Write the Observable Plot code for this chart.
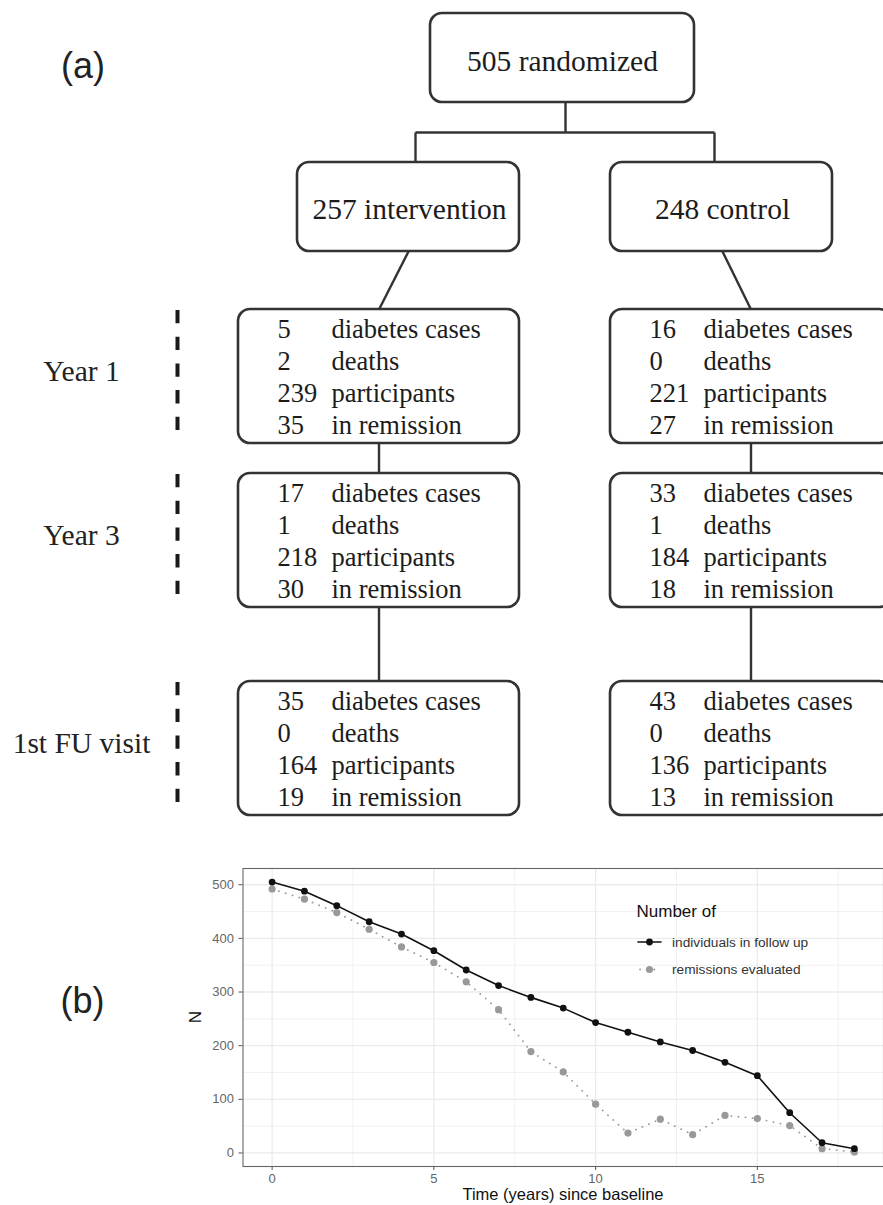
<!DOCTYPE html>
<html>
<head>
<meta charset="utf-8">
<script src="https://cdn.jsdelivr.net/npm/d3@7"></script>
<script src="https://cdn.jsdelivr.net/npm/@observablehq/plot@0.6"></script>
<style>
html, body { margin: 0; padding: 0; background: #fff; overflow: hidden; }
#page { position: relative; width: 883px; height: 1205px; overflow: hidden; }
#flow, #chart { position: absolute; left: 0; }
#flow { top: 0; }
#chart { top: 840px; }
#page svg { max-width: none !important; overflow: hidden; }
</style>
</head>
<body>
<div id="page">
  <div id="flow"></div>
  <div id="chart"></div>
</div>
<script>
// ---------------- data ----------------
const randomized = 505;
const groups = ["intervention", "control"];
const groupN = [257, 248];
const visits = ["Year 1", "Year 3", "1st FU visit"];
const measures = ["diabetes cases", "deaths", "participants", "in remission"];
const interventionCounts = [[5, 2, 239, 35], [17, 1, 218, 30], [35, 0, 164, 19]];
const controlCounts = [[16, 0, 221, 27], [33, 1, 184, 18], [43, 0, 136, 13]];

const years = [0, 1, 2, 3, 4, 5, 6, 7, 8, 9, 10, 11, 12, 13, 14, 15, 16, 17, 18];
const followUp = [505, 488, 461, 431, 408, 377, 341, 312, 290, 270, 243, 225, 207, 191, 169, 144, 75, 19, 8];
const remissions = [492, 473, 448, 417, 384, 355, 319, 267, 189, 151, 91, 37, 63, 34, 70, 64, 51, 8, 2];
const seriesNames = ["individuals in follow up", "remissions evaluated"];
const legendTitle = "Number of";
const xTicks = [0, 5, 10, 15];
const xMinor = [2.5, 7.5, 12.5, 17.5];
const yTicks = [0, 100, 200, 300, 400, 500];
const yMinor = [50, 150, 250, 350, 450];
const xLabel = "Time (years) since baseline";
const yLabel = "N";

// ---------------- (a) flowchart ----------------
const W = 883, FH = 840;
const serif = "Liberation Serif, 'Times New Roman', serif";
const sans = "Liberation Sans, Arial, sans-serif";
const ink = "#1c1c1c";

// layout (diagram geometry, in pixels)
const topBox = {x1: 430, x2: 694, y1: 13, y2: 102};
const headLeft = [297, 610], headW = 222, headTop = 162, headBot = 251;
const colLeft = [238, 610], boxW = 281;
const rowTop = [309, 473, 681], boxH = 134;
const lineStep = 31.9;
const counts = [interventionCounts, controlCounts];

const boxes = [topBox];
groups.forEach((g, i) => boxes.push({x1: headLeft[i], x2: headLeft[i] + headW, y1: headTop, y2: headBot}));
groups.forEach((g, i) => visits.forEach((v, j) =>
  boxes.push({x1: colLeft[i], x2: colLeft[i] + boxW, y1: rowTop[j], y2: rowTop[j] + boxH})));

const colCenter = colLeft.map(l => l + boxW / 2);
const headCenter = headLeft.map(l => l + headW / 2);
const links = [
  {x1: 565, y1: topBox.y2, x2: 565, y2: 132},
  {x1: 415, y1: 132, x2: 714, y2: 132},
  {x1: 415, y1: 132, x2: 415, y2: headTop},
  {x1: 714, y1: 132, x2: 714, y2: headTop}
];
groups.forEach((g, i) => {
  links.push({x1: headCenter[i] + (i ? 1 : 0), y1: headBot, x2: colCenter[i], y2: rowTop[0]});
  for (let j = 1; j < visits.length; j++)
    links.push({x1: colCenter[i], y1: rowTop[j - 1] + boxH, x2: colCenter[i], y2: rowTop[j]});
});

const headTexts = [{x: (topBox.x1 + topBox.x2) / 2, y: 61, text: `${randomized} randomized`}];
groups.forEach((g, i) => headTexts.push({x: headCenter[i] + 1, y: 209, text: `${groupN[i]} ${g}`}));

const numTexts = [], labTexts = [];
groups.forEach((g, i) => visits.forEach((v, j) => measures.forEach((m, k) => {
  const y = rowTop[j] + 20 + lineStep * k;
  numTexts.push({x: colLeft[i] + 39, y, text: String(counts[i][j][k])});
  labTexts.push({x: colLeft[i] + 93, y, text: m});
})));

const visitTexts = visits.map((v, j) => ({x: 81, y: rowTop[j] + 62, text: v}));
const dashes = visits.map((v, j) => ({y1: rowTop[j] + 1, y2: rowTop[j] + 121}));

const flow = Plot.plot({
  width: W, height: FH, margin: 0,
  x: {type: "linear", domain: [0, W], range: [0, W], axis: null},
  y: {type: "linear", domain: [0, FH], range: [0, FH], axis: null},
  style: {background: "white"},
  marks: [
    Plot.link(links, {x1: "x1", y1: "y1", x2: "x2", y2: "y2", stroke: "#333", strokeWidth: 2.4}),
    Plot.rect(boxes, {x1: "x1", x2: "x2", y1: "y1", y2: "y2", rx: 12, fill: "white", stroke: "#333", strokeWidth: 2.6}),
    Plot.ruleX(dashes, {x: 177, y1: "y1", y2: "y2", stroke: "#1a1a1a", strokeWidth: 4, strokeDasharray: "13.3,13.4"}),
    Plot.text(headTexts, {x: "x", y: "y", text: "text", fontSize: 29.5, fontFamily: serif, fill: ink}),
    Plot.text(numTexts, {x: "x", y: "y", text: "text", textAnchor: "start", fontSize: 26.5, fontFamily: serif, fill: ink}),
    Plot.text(labTexts, {x: "x", y: "y", text: "text", textAnchor: "start", fontSize: 26.5, fontFamily: serif, fill: ink}),
    Plot.text(visitTexts, {x: "x", y: "y", text: "text", fontSize: 29.5, fontFamily: serif, fill: "#222"}),
    Plot.text(["(a)"], {x: 82.5, y: 66, text: d => d, fontSize: 36, fontFamily: sans, fill: "#222"})
  ]
});
document.getElementById("flow").appendChild(flow);

// ---------------- (b) line chart ----------------
const followData = years.map((t, i) => ({t, n: followUp[i], s: seriesNames[0]}));
const remData = years.map((t, i) => ({t, n: remissions[i], s: seriesNames[1]}));
const CH = 365;
const gridCol = "#ebebeb";
const black = "#111";
const grey = "#999";

const chart = Plot.plot({
  width: W, height: CH,
  marginTop: 28, marginBottom: 39, marginLeft: 242.5, marginRight: 0,
  x: {domain: [-0.9, 18.9]},
  y: {domain: [-25.25, 530.25]},
  style: {fontFamily: sans, background: "white"},
  marks: [
    Plot.ruleX(xMinor, {stroke: gridCol, strokeWidth: 0.7}),
    Plot.ruleY(yMinor, {stroke: gridCol, strokeWidth: 0.7}),
    Plot.ruleX(xTicks, {stroke: gridCol, strokeWidth: 1.3}),
    Plot.ruleY(yTicks, {stroke: gridCol, strokeWidth: 1.3}),
    Plot.line(remData, {x: "t", y: "n", stroke: grey, strokeWidth: 1.8, strokeDasharray: "0.1,7", strokeLinecap: "round"}),
    Plot.dot(remData, {x: "t", y: "n", r: 3.6, fill: grey, stroke: "none"}),
    Plot.line(followData, {x: "t", y: "n", stroke: black, strokeWidth: 1.6}),
    Plot.dot(followData, {x: "t", y: "n", r: 3.4, fill: black, stroke: "none"}),
    Plot.frame({stroke: "#666", strokeWidth: 1.1}),
    Plot.axisX({ticks: xTicks, tickSize: 4, tickPadding: 3, fontSize: 13, fill: "#666", stroke: "#555", label: null}),
    Plot.axisY({ticks: yTicks, tickSize: 4, tickPadding: 5, fontSize: 13, fill: "#666", stroke: "#555", label: null})
  ]
});
document.getElementById("chart").appendChild(chart);

// titles, panel label and legend drawn onto the chart svg
const svg = d3.select(chart);
svg.append("text").attr("x", 563).attr("y", 354.5).attr("dy", "0.35em")
  .attr("text-anchor", "middle").attr("font-size", 16.5).attr("fill", "#111")
  .attr("font-family", sans).text(xLabel);
svg.append("text").attr("transform", "translate(195,177) rotate(-90)").attr("dy", "0.35em")
  .attr("text-anchor", "middle").attr("font-size", 17).attr("fill", "#111")
  .attr("font-family", sans).text(yLabel);
svg.append("text").attr("x", 82.5).attr("y", 161).attr("dy", "0.32em")
  .attr("text-anchor", "middle").attr("font-size", 36).attr("fill", "#222")
  .attr("font-family", sans).text("(b)");

const lg = svg.append("g").attr("font-family", sans).attr("text-anchor", "start");
lg.append("text").attr("x", 636.5).attr("y", 71).attr("dy", "0.35em").attr("text-anchor", "start")
  .attr("font-size", 17).attr("fill", "#111").text(legendTitle);
const keyY = [102, 129.5];
const keyStyle = [
  {stroke: black, dash: null, r: 3.4},
  {stroke: grey, dash: "0.1,7", r: 3.6}
];
seriesNames.forEach((name, i) => {
  const l = lg.append("line").attr("x1", 638).attr("x2", 661).attr("y1", keyY[i]).attr("y2", keyY[i])
    .attr("stroke", keyStyle[i].stroke).attr("stroke-width", i ? 1.8 : 1.6).attr("stroke-linecap", "round");
  if (keyStyle[i].dash) l.attr("stroke-dasharray", keyStyle[i].dash).attr("x1", 640);
  lg.append("circle").attr("cx", 649.5).attr("cy", keyY[i]).attr("r", keyStyle[i].r).attr("fill", keyStyle[i].stroke);
  lg.append("text").attr("x", 672).attr("y", keyY[i]).attr("dy", "0.35em").attr("text-anchor", "start")
    .attr("font-size", 13.7).attr("fill", "#333").text(name);
});
</script>
</body>
</html>
